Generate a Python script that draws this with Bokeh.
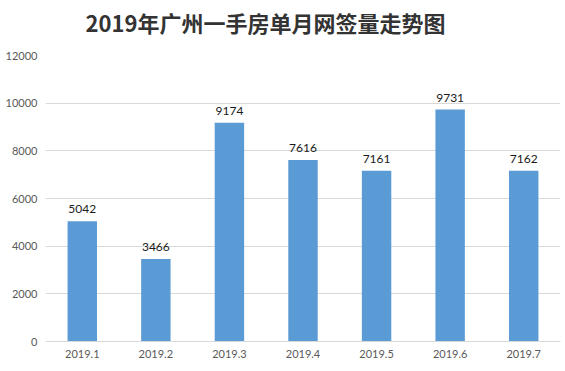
from bokeh.plotting import figure
from bokeh.models import ColumnDataSource, LabelSet, SingleIntervalTicker, Div
from bokeh.layouts import column
from bokeh.core.properties import value
from bokeh.embed import file_html
from bokeh.resources import INLINE

months = ["2019.1", "2019.2", "2019.3", "2019.4", "2019.5", "2019.6", "2019.7"]
values = [5042, 3466, 9174, 7616, 7161, 9731, 7162]
title_text = "2019年广州一手房单月网签量走势图"

src = ColumnDataSource(dict(x=months, y=values, lab=[str(v) for v in values]))

head = Div(text=title_text, width=531, height=44, margin=0,
           styles={"font-family": "'Noto Sans CJK SC'", "font-size": "22px",
                   "font-weight": "bold", "color": "#333333",
                   "text-align": "center", "line-height": "44px",
                   "width": "531px", "white-space": "nowrap"})

p = figure(x_range=months, y_range=(0, 12000), width=565, height=327,
           output_backend="svg", toolbar_location=None, margin=0,
           min_border_left=45, min_border_right=5, min_border_top=11, min_border_bottom=30)

p.vbar(x="x", top="y", width=0.4, source=src, color="#5b9bd5", line_color=None)

labels = LabelSet(x="x", y="y", text="lab", source=src, text_align="center",
                  text_baseline="bottom", y_offset=8, text_font_size="12px",
                  text_font=value("Lato"), text_color="#1a1a1a")
p.add_layout(labels)

p.outline_line_color = None
p.xgrid.grid_line_color = None
p.ygrid.grid_line_color = "#d9d9d9"
p.yaxis.ticker = SingleIntervalTicker(interval=2000)
p.yaxis.axis_line_color = None
p.yaxis.major_tick_line_color = None
p.yaxis.minor_tick_line_color = None
p.yaxis.major_tick_out = 0
p.yaxis.minor_tick_out = 0
p.yaxis.major_label_text_color = "#595959"
p.yaxis.major_label_text_font = "Lato"
p.yaxis.major_label_text_font_size = "11px"
p.yaxis.major_label_standoff = 8
p.xaxis.axis_line_color = "#d9d9d9"
p.xaxis.major_tick_line_color = None
p.xaxis.minor_tick_line_color = None
p.xaxis.major_tick_out = 0
p.xaxis.minor_tick_out = 0
p.xaxis.major_label_text_color = "#595959"
p.xaxis.major_label_text_font = "Lato"
p.xaxis.major_label_text_font_size = "11px"
p.xaxis.major_label_standoff = 8

layout = column(head, p, spacing=0)
open("out.html", "w").write(file_html(layout, INLINE))
